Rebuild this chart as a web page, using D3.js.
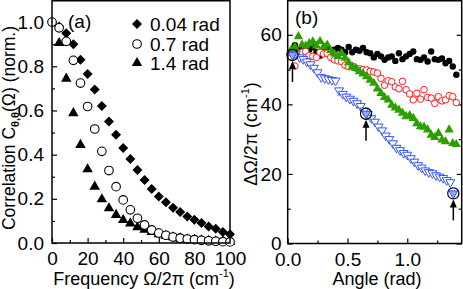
<!DOCTYPE html>
<html>
<head>
<meta charset="utf-8">
<style>
  body { margin: 0; background: #fff; }
  svg text { font-family: "Liberation Sans", Arial, sans-serif; fill: #000; }
  .tick text { font-size: 19px; }
</style>
</head>
<body>
<svg id="fig" width="463" height="289"></svg>
<script src="https://cdn.jsdelivr.net/npm/d3@7"></script>
<script>
// panel (a): correlation vs frequency
var freqFull = [0,4,8,12,16,20,24,28,32,36,40,44,48,52,56,60,64,68,72,76,80,84,88,92,96,100];
var freqFrom4 = [4,8,12,16,20,24,28,32,36,40,44,48,52,56,60,64,68,72,76,80,84,88,92,96,100];
var corr004 = [0.98,0.95,0.90,0.83,0.765,0.695,0.62,0.55,0.49,0.43,0.38,0.33,0.285,0.245,0.21,0.185,0.16,0.14,0.12,0.105,0.09,0.075,0.065,0.05,0.04];
var corr07 = [1.0,0.974,0.913,0.827,0.724,0.618,0.516,0.415,0.328,0.255,0.195,0.15,0.112,0.082,0.059,0.045,0.035,0.027,0.022,0.018,0.015,0.012,0.01,0.008,0.006,0.005];
var corr14 = [0.905,0.744,0.588,0.444,0.334,0.255,0.198,0.157,0.127,0.104,0.089,0.071,0.06,0.05,0.04,0.032,0.026,0.021,0.017,0.014,0.012,0.01,0.008,0.007,0.006];
var legendLabels = ["0.04 rad", "0.7 rad", "1.4 rad"];
var freqTicks = [0,20,40,60,80,100];
var corrTicks = [0,0.2,0.4,0.6,0.8,1.0];

// panel (b): width vs angle
var angles = [0.03,0.06,0.09,0.12,0.15,0.18,0.21,0.24,0.27,0.30,0.33,0.36,0.39,0.42,0.45,0.48,0.51,0.54,0.57,0.60,0.63,0.66,0.69,0.72,0.75,0.78,0.81,0.84,0.87,0.90,0.93,0.96,0.99,1.02,1.05,1.08,1.11,1.14,1.17,1.20,1.23,1.26,1.29,1.32,1.35,1.38,1.41];
var widthBlack = [55,57,55.5,56,55.5,55.7,56.5,55,54,55.5,56,55.2,55.7,56.2,55.7,55,56.5,55,55.7,55.4,56.2,55,54.7,53.5,54.5,53.8,52.8,53.5,53.8,52.5,54.7,53,53.8,54.5,55.2,53,52.8,53.5,52.3,55.2,53,52.8,53.2,51.8,52.5,50.9,48.5];
var widthRed = [53.5,51,54.5,55,55.2,54,53.8,53.5,55,54.5,54.7,53.5,52.8,52.5,52.3,51.2,50.8,51,50.4,50.2,50,49.9,49.5,49.3,49,47.5,45.5,46.8,46.5,45,44.5,46.6,44.2,43,41.3,43.2,41.5,44.2,42,41.8,40.3,42.2,41,41.3,42.5,42.2,40.5];
var widthGreen = [55.7,56.5,59.5,57.1,56.8,57.5,58,56.8,58.1,56.5,57.1,55.5,54.5,53.8,54.7,53.3,52,50.8,50.4,49.4,48.8,48,47,46.1,44.5,43.2,42,41.3,39.8,39,38.4,37.5,36.5,36.8,36,34.5,33.6,33.5,32.7,31.2,30.5,31.7,29.8,29.3,32.7,28.8,28.5];
var anglesBlue = [0.07,0.10,0.13,0.16,0.19,0.22,0.25,0.28,0.31,0.34,0.37,0.40,0.43,0.46,0.49,0.52,0.55,0.58,0.61,0.64,0.67,0.70,0.73,0.76,0.79,0.82,0.85,0.88,0.91,0.94,0.97,1.00,1.03,1.06,1.09,1.12,1.15,1.18,1.21,1.24,1.27,1.30,1.33,1.36];
var widthBlue = [54.5,53.5,53,52.3,51.5,50.5,49.2,47.8,47.5,47.2,47,46.8,44,43,42.2,41.6,41,40.3,39.5,38.2,37.2,36,35,33.6,32.5,31,30,28.8,27.5,26.8,26,25.5,24.5,23.5,22.5,21.8,21,20.5,20.2,19.6,19.2,18.8,18.2,17.6];
var markAngles = [0.04,0.655,1.385];
var markWidths = [54.2,37.3,14.4];
var angleTicks = [0,0.5,1.0];
var widthTicks = [0,20,40,60];

var svg = d3.select("#fig");

function frame(x, y) {
  svg.append("rect")
    .attr("x", x.range()[0]).attr("y", y.range()[1] + 0.75)
    .attr("width", x.range()[1] - x.range()[0])
    .attr("height", y.range()[0] - y.range()[1] - 0.75)
    .attr("fill", "none").attr("stroke", "#000").attr("stroke-width", 1.5);
}

function ticks(axisFn, scale, values, size, labels, tr, pad) {
  var ax = axisFn(scale).tickValues(values).tickSize(size).tickPadding(pad || 3);
  if (!labels) ax.tickFormat("");
  else ax.tickFormat(labels);
  var g = svg.append("g").attr("transform", tr).call(ax);
  g.select(".domain").remove();
  g.selectAll(".tick line").attr("stroke", "#000").attr("stroke-width", 1.2);
  return g;
}

// ---------- panel (a)
var xa = d3.scaleLinear().domain([0, 100]).range([52, 230]);
var ya = d3.scaleLinear().domain([0, 1.1]).range([243, 0]);

ticks(d3.axisBottom, xa, freqTicks, -5, d3.format("d"), "translate(0,243)", 9);
ticks(d3.axisBottom, xa, [10,30,50,70,90], -3, null, "translate(0,243)");
ticks(d3.axisLeft, ya, corrTicks, -5, d3.format(".1f"), "translate(52,0)", 8);
ticks(d3.axisLeft, ya, [0.1,0.3,0.5,0.7,0.9], -3, null, "translate(52,0)");

var ga = svg.append("g");
ga.selectAll(".dia").data(freqFrom4).enter().append("path")
  .attr("d", d3.symbol().type(d3.symbolSquare).size(50))
  .attr("transform", function(d, i) { return "translate(" + xa(d) + "," + ya(corr004[i]) + ") rotate(45)"; })
  .attr("fill", "#000");
ga.selectAll(".tri").data(freqFrom4).enter().append("path")
  .attr("d", d3.symbol().type(d3.symbolTriangle).size(48))
  .attr("transform", function(d, i) { return "translate(" + xa(d) + "," + ya(corr14[i]) + ")"; })
  .attr("fill", "#000");
ga.selectAll(".circ").data(freqFull).enter().append("circle")
  .attr("cx", function(d) { return xa(d); })
  .attr("cy", function(d, i) { return ya(corr07[i]); })
  .attr("r", 4.3).attr("fill", "#fff").attr("stroke", "#000").attr("stroke-width", 1.1);

frame(xa, ya);

svg.append("text").attr("x", 68).attr("y", 28).attr("font-size", 19).text("(a)");

// legend
var legY = [24, 44, 63];
var leg = svg.append("g");
leg.append("path").attr("d", d3.symbol().type(d3.symbolSquare).size(50)())
  .attr("transform", "translate(137," + legY[0] + ") rotate(45)");
leg.append("circle").attr("cx", 137).attr("cy", legY[1]).attr("r", 4.3)
  .attr("fill", "#fff").attr("stroke", "#000").attr("stroke-width", 1.1);
leg.append("path").attr("d", d3.symbol().type(d3.symbolTriangle).size(48)())
  .attr("transform", "translate(137," + legY[2] + ")");
leg.selectAll("text").data(legendLabels).enter().append("text")
  .attr("x", 150).attr("y", function(d, i) { return legY[i] + 7; })
  .attr("font-size", 19).text(function(d) { return d; });

// axis titles (a)
var xt = svg.append("text").attr("x", 144).attr("y", 285).attr("text-anchor", "middle").attr("font-size", 18);
xt.append("tspan").text("Frequency  \u03a9/2\u03c0 (cm");
xt.append("tspan").attr("font-size", 11).attr("dy", -8).text("-1");
xt.append("tspan").attr("dy", 8).text(")");

var yt = svg.append("text").attr("transform", "translate(15,128) rotate(-90)")
  .attr("text-anchor", "middle").attr("font-size", 17.5);
yt.append("tspan").text("Correlation C");
yt.append("tspan").attr("font-size", 11).attr("font-weight", "bold").attr("dy", 4).text("\u03b8,\u03b8");
yt.append("tspan").attr("dy", -4).text("(\u03a9) (norm.)");

// ---------- panel (b)
var xb = d3.scaleLinear().domain([0, 1.455]).range([287.7, 461.7]);
var yb = d3.scaleLinear().domain([0, 70]).range([243.5, 0]);

ticks(d3.axisBottom, xb, angleTicks, -5, d3.format(".1f"), "translate(0,243.5)", 9);
ticks(d3.axisBottom, xb, [0.25,0.75,1.25], -3, null, "translate(0,243.5)");
ticks(d3.axisLeft, yb, widthTicks, -5, d3.format("d"), "translate(287.7,0)", 6);
ticks(d3.axisLeft, yb, [10,30,50], -3, null, "translate(287.7,0)");
ticks(d3.axisRight, yb, widthTicks, -5, null, "translate(461.7,0)");
ticks(d3.axisRight, yb, [10,30,50], -3, null, "translate(461.7,0)");

var gb = svg.append("g");
gb.selectAll(".blk").data(angles).enter().append("circle")
  .attr("cx", function(d) { return xb(d); })
  .attr("cy", function(d, i) { return yb(widthBlack[i]); })
  .attr("r", 3.2).attr("fill", "#000");
gb.selectAll(".red").data(angles).enter().append("circle")
  .attr("cx", function(d) { return xb(d); })
  .attr("cy", function(d, i) { return yb(widthRed[i]); })
  .attr("r", 3.3).attr("fill", "#fff").attr("stroke", "#ff1a1a").attr("stroke-width", 1);
gb.selectAll(".grn").data(angles).enter().append("path")
  .attr("d", d3.symbol().type(d3.symbolTriangle).size(38))
  .attr("transform", function(d, i) { return "translate(" + xb(d) + "," + yb(widthGreen[i]) + ")"; })
  .attr("fill", "#2ca000");
gb.selectAll(".blu").data(anglesBlue).enter().append("path")
  .attr("d", d3.symbol().type(d3.symbolTriangle).size(34))
  .attr("transform", function(d, i) { return "translate(" + xb(d) + "," + yb(widthBlue[i]) + ") rotate(180)"; })
  .attr("fill", "#fff").attr("stroke", "#3355ff").attr("stroke-width", 1);

// highlighted points with arrows
var hl = gb.selectAll(".hl").data(markAngles).enter().append("g")
  .attr("transform", function(d, i) { return "translate(" + xb(d) + "," + yb(markWidths[i]) + ")"; });
hl.append("path").attr("d", d3.symbol().type(d3.symbolTriangle).size(34)())
  .attr("transform", "rotate(180)")
  .attr("fill", "#8fa8ff").attr("stroke", "#3355ff").attr("stroke-width", 1);
hl.append("circle").attr("r", 5.6).attr("fill", "none").attr("stroke", "#000").attr("stroke-width", 1.2);
hl.append("line").attr("x1", 0).attr("x2", 0).attr("y1", 11).attr("y2", 27)
  .attr("stroke", "#000").attr("stroke-width", 1.5);
hl.append("path").attr("d", "M0,6 L-3.5,14 L3.5,14 Z").attr("fill", "#000");

frame(xb, yb);

svg.append("text").attr("x", 295).attr("y", 24).attr("font-size", 19).text("(b)");

svg.append("text").attr("x", 377).attr("y", 285).attr("text-anchor", "middle").attr("font-size", 18).text("Angle (rad)");

var yt2 = svg.append("text").attr("transform", "translate(257,134) rotate(-90)")
  .attr("text-anchor", "middle").attr("font-size", 18);
yt2.append("tspan").text("\u0394\u03a9/2\u03c0 (cm");
yt2.append("tspan").attr("font-size", 11).attr("dy", -8).text("-1");
yt2.append("tspan").attr("dy", 8).text(")");
</script>
</body>
</html>
